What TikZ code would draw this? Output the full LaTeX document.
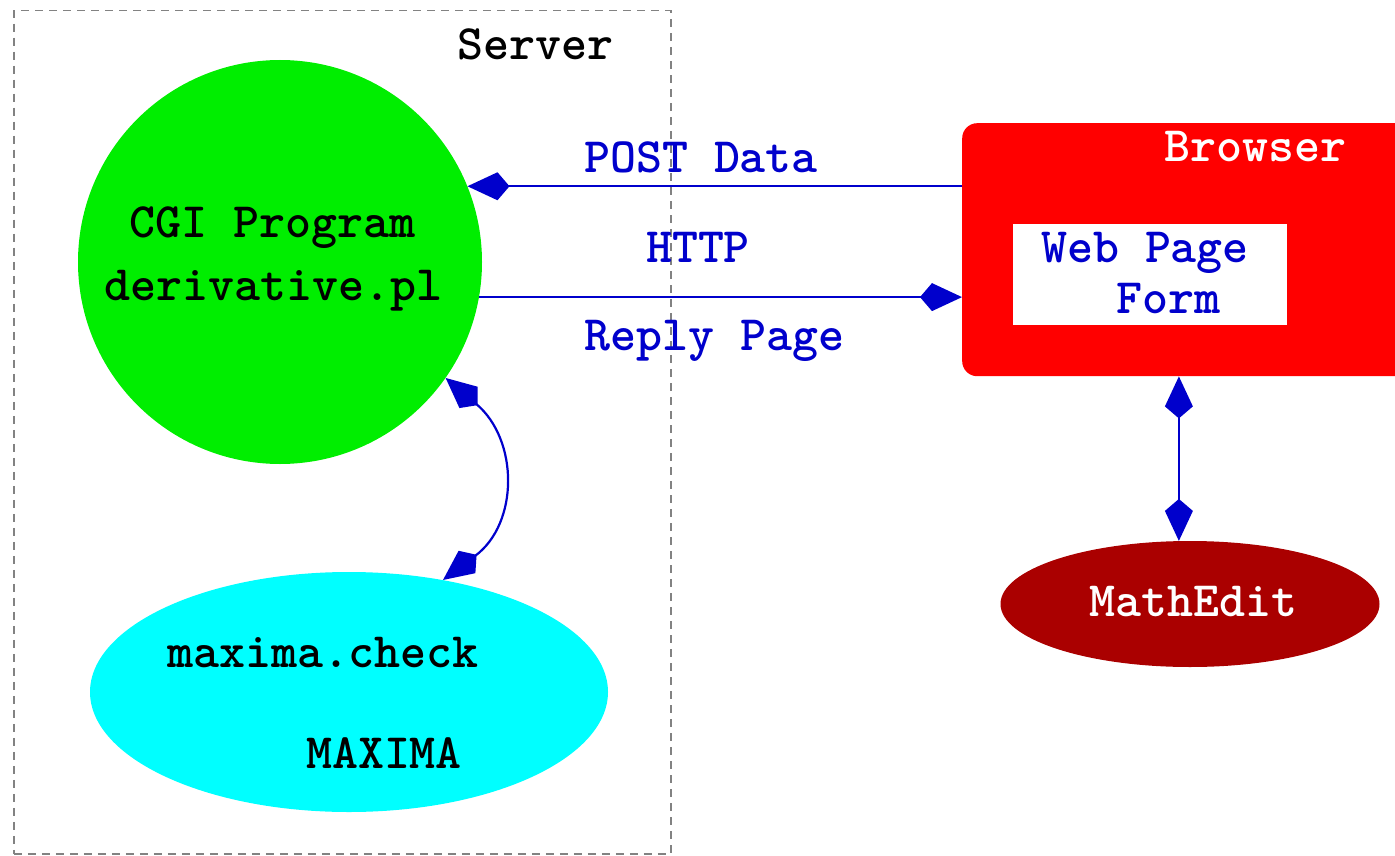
\documentclass[tikz,border=0pt]{standalone}
\usepackage{fontspec}
\usetikzlibrary{arrows.meta,shapes.geometric}
\definecolor{cgigreen}{RGB}{0,238,0}
\definecolor{maxcyan}{RGB}{0,255,255}
\definecolor{brred}{RGB}{255,0,0}
\definecolor{medred}{RGB}{170,0,0}
\definecolor{linkblue}{RGB}{0,0,204}
\definecolor{framegray}{RGB}{130,130,130}
\tikzset{
  lbl/.style={font=\ttfamily\bfseries\fontsize{49.5}{56}\selectfont, inner sep=0pt, anchor=base},
  conn/.style={draw=linkblue, line width=2.2pt},
}
\begin{document}
\begin{tikzpicture}[x=1pt,y=-1pt]
\useasboundingbox (0,0) rectangle (1395,856);
% server frame
\node[draw=framegray, line width=1.5pt, dash pattern=on 8pt off 6pt, minimum width=657pt, minimum height=843pt, inner sep=0pt, anchor=north west] (server) at (13,10) {};
\node[lbl, text=black] (servert) at (535.5,60) {Server};
% shapes
\node[circle, fill=cgigreen, minimum size=404pt, inner sep=0pt] (cgi) at (280,262) {};
\node[ellipse, fill=maxcyan, minimum width=518pt, minimum height=240pt, inner sep=0pt] (maxima) at (349,692) {};
\node[rectangle, rounded corners=15pt, fill=brred, minimum width=448pt, minimum height=253pt, inner sep=0pt, anchor=north west] (browser) at (962,123) {};
\node[rectangle, fill=white, minimum width=274pt, minimum height=101pt, inner sep=0pt, anchor=north west] (form) at (1013,224) {};
\node[ellipse, fill=medred, minimum width=379pt, minimum height=126pt, inner sep=0pt] (mathedit) at (1190,604) {};
% texts
\node[lbl, text=black] (cgit1) at (272.5,237) {CGI Program};
\node[lbl, text=black] (cgit2) at (273.5,300) {derivative.pl};
\node[lbl, text=black] (maxt1) at (323,667) {maxima.check};
\node[lbl, text=black] (maxt2) at (384,768) {MAXIMA};
\node[lbl, text=white] (browt) at (1255.5,161) {Browser};
\node[lbl, text=linkblue] (formt1) at (1145,262) {Web Page};
\node[lbl, text=linkblue] (formt2) at (1168,313) {Form};
\node[lbl, text=white] (medt) at (1193.5,616) {MathEdit};
\node[lbl, text=linkblue] (postt) at (701,172) {POST Data};
\node[lbl, text=linkblue] (httpt) at (698,262) {HTTP};
\node[lbl, text=linkblue] (replyt) at (714.5,350) {Reply Page};
% connectors
\draw[conn, -{Kite[length=42pt,width=28pt,inset=12pt]}] (browser.west |- cgi.22.4) -- (cgi.22.4);
\draw[conn, -{Kite[length=42pt,width=28pt,inset=12pt]}] (cgi.-10.3) -- (browser.west |- cgi.-10.3);
\draw[conn, {Kite[length=42pt,width=28pt,inset=12pt]}-{Kite[length=42pt,width=28pt,inset=12pt]}] (cgi.-35) .. controls ([shift={(73,62)}]cgi.-35) and ([shift={(76,-57)}]maxima.50) .. (maxima.50);
\draw[conn, {Kite[length=42pt,width=28pt,inset=12pt]}-{Kite[length=42pt,width=28pt,inset=12pt]}] (browser.south -| mathedit.100.7) -- (mathedit.100.7);
\end{tikzpicture}
\end{document}
